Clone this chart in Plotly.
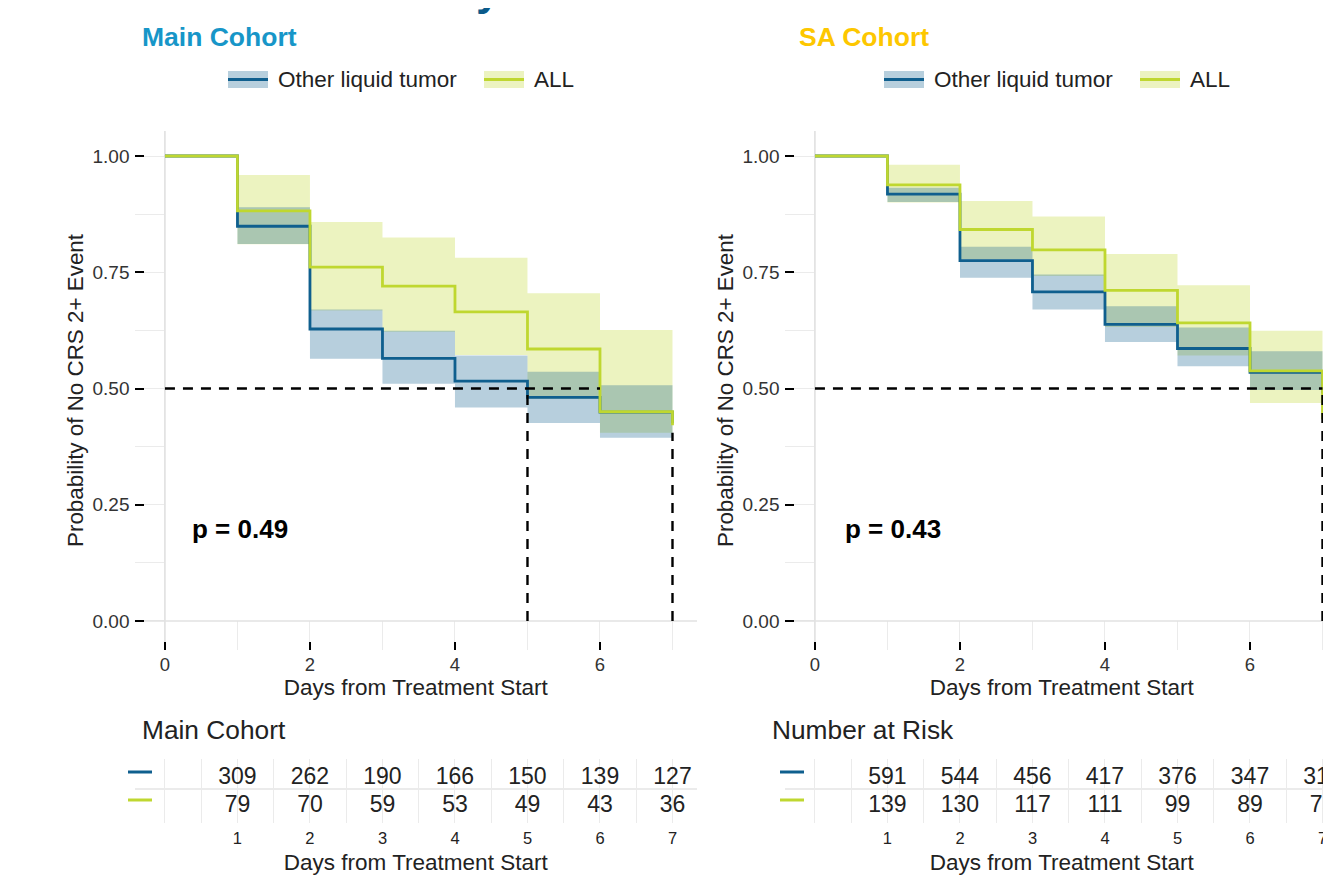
import plotly.graph_objects as go

W, H = 1331, 880
OFF = 8  # page body margin offset (screen px)
FONT = "Liberation Sans, Arial, Helvetica, sans-serif"

# ---------------- data ----------------
days = [0, 1, 2, 3, 4, 5, 6, 7]
ci_starts = [1, 2, 3, 4, 5, 6]
risk_days = [1, 2, 3, 4, 5, 6, 7]
group_names = ["Other liquid tumor", "ALL"]

# Main cohort
main_other_surv = [1.0, 0.849, 0.628, 0.565, 0.516, 0.481, 0.449, 0.425]
main_all_surv = [1.0, 0.882, 0.761, 0.720, 0.665, 0.585, 0.450, 0.421]
main_other_upper = [0.890, 0.670, 0.624, 0.571, 0.536, 0.507]
main_other_lower = [0.811, 0.564, 0.510, 0.459, 0.426, 0.394]
main_all_upper = [0.959, 0.858, 0.825, 0.781, 0.705, 0.626]
main_all_lower = [0.810, 0.668, 0.622, 0.572, 0.478, 0.405]
main_risk_other = [309, 262, 190, 166, 150, 139, 127]
main_risk_all = [79, 70, 59, 53, 49, 43, 36]
main_pvalue = "p = 0.49"
main_median_h_end = 6
main_median_x = [5, 7]
main_median_top = [0.5, 0.405]

# SA cohort
sa_other_surv = [1.0, 0.918, 0.775, 0.708, 0.638, 0.586, 0.535, 0.490]
sa_all_surv = [1.0, 0.938, 0.842, 0.798, 0.711, 0.641, 0.538, 0.434]
sa_other_upper = [0.932, 0.805, 0.745, 0.677, 0.631, 0.580]
sa_other_lower = [0.901, 0.738, 0.670, 0.600, 0.548, 0.497]
sa_all_upper = [0.981, 0.903, 0.870, 0.789, 0.722, 0.624]
sa_all_lower = [0.900, 0.778, 0.742, 0.632, 0.571, 0.469]
sa_risk_other = [591, 544, 456, 417, 376, 347, 318]
sa_risk_all = [139, 130, 117, 111, 99, 89, 75]
sa_pvalue = "p = 0.43"
sa_median_h_end = 7
sa_median_x = [7]
sa_median_top = [0.5]

# ---------------- styles ----------------
BLUE = "#0f5f8e"
GREEN = "#bfd730"
BLUE_FILL = "rgba(15,95,142,0.30)"
GREEN_FILL = "rgba(191,215,48,0.30)"
GRID = "#ebebeb"
AXLINE = "#e2e2e2"
TXT = "#222222"


def px(x):
    return (x - OFF) / W


def py(y):
    return 1 - (y - OFF) / H


# panel geometry in screen pixels
LEFT_X0, LEFT_X1 = 134.5, 697
RIGHT_X0, RIGHT_X1 = 784.5, W + OFF
KM_Y0, KM_Y1 = 131, 650
TAB_Y0, TAB_Y1 = 759, 823
XR_LEFT = [-0.42, 7.338]
XR_RIGHT = [-0.42, (RIGHT_X1 - 815) / 72.5]
YR_KM = [-0.0624, 1.0538]
ROW_SHIFT = 3 / 28.0
YR_TAB = [-0.714 + ROW_SHIFT, 1.571 + ROW_SHIFT]


def band(starts, upper, lower):
    xs, ys = [], []
    for s, u in zip(starts, upper):
        xs += [s, s + 1]
        ys += [u, u]
    for s, l in reversed(list(zip(starts, lower))):
        xs += [s + 1, s]
        ys += [l, l]
    xs.append(xs[0])
    ys.append(ys[0])
    return xs, ys


fig = go.Figure()

panels = [
    dict(xa="x", ya="y", xt="x3", yt="y3",
         other=main_other_surv, all=main_all_surv,
         ou=main_other_upper, ol=main_other_lower,
         au=main_all_upper, al=main_all_lower,
         ro=main_risk_other, ra=main_risk_all,
         p=main_pvalue, px_=0.35, mh=main_median_h_end,
         mx=main_median_x, mt=main_median_top),
    dict(xa="x2", ya="y2", xt="x4", yt="y4",
         other=sa_other_surv, all=sa_all_surv,
         ou=sa_other_upper, ol=sa_other_lower,
         au=sa_all_upper, al=sa_all_lower,
         ro=sa_risk_other, ra=sa_risk_all,
         p=sa_pvalue, px_=0.39, mh=sa_median_h_end,
         mx=sa_median_x, mt=sa_median_top),
]

for pn in panels:
    bx, by = band(ci_starts, pn["au"], pn["al"])
    fig.add_trace(go.Scatter(x=bx, y=by, fill="toself", fillcolor=GREEN_FILL,
                             mode="lines", line=dict(width=0), hoverinfo="skip",
                             showlegend=False, xaxis=pn["xa"], yaxis=pn["ya"]))
    bx, by = band(ci_starts, pn["ou"], pn["ol"])
    fig.add_trace(go.Scatter(x=bx, y=by, fill="toself", fillcolor=BLUE_FILL,
                             mode="lines", line=dict(width=0), hoverinfo="skip",
                             showlegend=False, xaxis=pn["xa"], yaxis=pn["ya"]))
    fig.add_trace(go.Scatter(x=days, y=pn["other"], mode="lines", line_shape="hv",
                             line=dict(color=BLUE, width=2.8), name=group_names[0],
                             showlegend=False, xaxis=pn["xa"], yaxis=pn["ya"]))
    fig.add_trace(go.Scatter(x=days, y=pn["all"], mode="lines", line_shape="hv",
                             line=dict(color=GREEN, width=2.8), name=group_names[1],
                             showlegend=False, xaxis=pn["xa"], yaxis=pn["ya"]))
    fig.add_trace(go.Scatter(x=[0, pn["mh"]], y=[0.5, 0.5], mode="lines",
                             line=dict(color="black", width=2.4, dash="10px,8px"),
                             hoverinfo="skip", showlegend=False,
                             xaxis=pn["xa"], yaxis=pn["ya"]))
    for mx, mt in zip(pn["mx"], pn["mt"]):
        fig.add_trace(go.Scatter(x=[mx, mx], y=[0, mt], mode="lines",
                                 line=dict(color="black", width=2.4, dash="10px,8px"),
                                 hoverinfo="skip", showlegend=False,
                                 xaxis=pn["xa"], yaxis=pn["ya"]))
    fig.add_trace(go.Scatter(x=risk_days, y=[1] * len(risk_days), mode="text",
                             text=[str(v) for v in pn["ro"]],
                             textfont=dict(size=23, color=TXT, family=FONT),
                             cliponaxis=False, hoverinfo="skip", showlegend=False,
                             xaxis=pn["xt"], yaxis=pn["yt"]))
    fig.add_trace(go.Scatter(x=risk_days, y=[0] * len(risk_days), mode="text",
                             text=[str(v) for v in pn["ra"]],
                             textfont=dict(size=23, color=TXT, family=FONT),
                             cliponaxis=False, hoverinfo="skip", showlegend=False,
                             xaxis=pn["xt"], yaxis=pn["yt"]))


def km_xaxis(domain, rng, anchor):
    return dict(domain=domain, range=rng, anchor=anchor,
                tickmode="linear", tick0=0, dtick=2,
                ticks="inside", ticklen=8, tickwidth=2, tickcolor="black",
                showgrid=True, gridcolor=GRID, gridwidth=1.3,
                minor=dict(tick0=0, dtick=1, showgrid=True, gridcolor=GRID,
                           gridwidth=1.3, ticks=""),
                zeroline=False, showline=False, ticklabelstandoff=1,
                tickfont=dict(size=18.5, color="#333", family=FONT),
                title=dict(text="Days from Treatment Start", standoff=5,
                           font=dict(size=22.5, color=TXT, family=FONT)))


def km_yaxis(domain, anchor):
    return dict(domain=domain, range=YR_KM, anchor=anchor,
                tickmode="linear", tick0=0, dtick=0.25, tickformat=".2f",
                ticks="inside", ticklen=9, tickwidth=2, tickcolor="black",
                showgrid=True, gridcolor=GRID, gridwidth=1.3,
                minor=dict(tick0=0, dtick=0.125, showgrid=True, gridcolor=GRID,
                           gridwidth=1.3, ticks=""),
                zeroline=False, showline=False, ticklabelstandoff=4,
                tickfont=dict(size=19, color="#333", family=FONT),
                title=dict(text="Probability of No CRS 2+ Event", standoff=2,
                           font=dict(size=22.4, color=TXT, family=FONT)))


def tab_xaxis(domain, rng, anchor):
    return dict(domain=domain, range=rng, anchor=anchor,
                tickmode="array", tickvals=risk_days, ticks="",
                showgrid=True, gridcolor=GRID, gridwidth=1.3,
                minor=dict(tickmode="linear", tick0=0, dtick=0.5, showgrid=True,
                           gridcolor=GRID, gridwidth=1.3, ticks=""),
                zeroline=False, showline=False, ticklabelstandoff=3,
                tickfont=dict(size=16.5, color=TXT, family=FONT),
                title=dict(text="Days from Treatment Start", standoff=8,
                           font=dict(size=22.5, color=TXT, family=FONT)))


def tab_yaxis(domain, anchor):
    return dict(domain=domain, range=YR_TAB, anchor=anchor,
                tickmode="array", tickvals=[0.5 + ROW_SHIFT], showticklabels=False,
                ticks="", showgrid=True, gridcolor=GRID, gridwidth=1.5,
                zeroline=False, showline=False)


km_ydom = [py(KM_Y1), py(KM_Y0)]
tab_ydom = [py(TAB_Y1), py(TAB_Y0)]
left_dom = [px(LEFT_X0), px(LEFT_X1)]
right_dom = [px(RIGHT_X0), min(1.0, px(RIGHT_X1))]

fig.update_layout(
    width=W, height=H, autosize=False,
    margin=dict(l=0, r=0, t=0, b=0),
    paper_bgcolor="white", plot_bgcolor="white",
    font=dict(family=FONT, color=TXT),
    showlegend=False,
    xaxis=km_xaxis(left_dom, XR_LEFT, "y"),
    yaxis=km_yaxis(km_ydom, "x"),
    xaxis2=km_xaxis(right_dom, XR_RIGHT, "y2"),
    yaxis2=km_yaxis(km_ydom, "x2"),
    xaxis3=tab_xaxis(left_dom, XR_LEFT, "y3"),
    yaxis3=tab_yaxis(tab_ydom, "x3"),
    xaxis4=tab_xaxis(right_dom, XR_RIGHT, "y4"),
    yaxis4=tab_yaxis(tab_ydom, "x4"),
)

shapes = []
annotations = []
for xa, ya, rng in [("x", "y", XR_LEFT), ("x2", "y2", XR_RIGHT)]:
    shapes.append(dict(type="rect", xref=xa, yref=ya, x0=0, x1=rng[1] + 1,
                       y0=0, y1=YR_KM[1] + 1, fillcolor="white",
                       line=dict(width=0), layer="between"))
    shapes.append(dict(type="line", xref=xa, yref=ya, x0=0, x1=0,
                       y0=YR_KM[0], y1=YR_KM[1], line=dict(color=AXLINE, width=1.6),
                       layer="between"))
    shapes.append(dict(type="line", xref=xa, yref=ya, x0=rng[0], x1=rng[1],
                       y0=0, y1=0, line=dict(color=AXLINE, width=1.6),
                       layer="between"))

legend_layout = [
    dict(title="Main Cohort", tcolor="#1796c8", tx=140, sw=[228, 484], txt=[276, 532],
         tab_title="Main Cohort", tab_x=140, dash_x=128),
    dict(title="SA Cohort", tcolor="#fdc700", tx=797, sw=[884, 1140], txt=[932, 1188],
         tab_title="Number at Risk", tab_x=770, dash_x=780),
]
for lg in legend_layout:
    annotations.append(dict(text="<b>%s</b>" % lg["title"], xref="paper", yref="paper",
                            x=px(lg["tx"]), y=py(37), xanchor="left", yanchor="middle",
                            showarrow=False,
                            font=dict(size=26.5, color=lg["tcolor"], family=FONT)))
    for i, (sx, tx) in enumerate(zip(lg["sw"], lg["txt"])):
        fill = BLUE_FILL if i == 0 else GREEN_FILL
        col = BLUE if i == 0 else GREEN
        shapes.append(dict(type="rect", xref="paper", yref="paper",
                           x0=px(sx), x1=px(sx + 40), y0=py(88), y1=py(71),
                           fillcolor=fill, line=dict(width=0)))
        shapes.append(dict(type="line", xref="paper", yref="paper",
                           x0=px(sx), x1=px(sx + 40), y0=py(79.5), y1=py(79.5),
                           line=dict(color=col, width=3)))
        annotations.append(dict(text=group_names[i], xref="paper", yref="paper",
                                x=px(tx), y=py(79), xanchor="left", yanchor="middle",
                                showarrow=False,
                                font=dict(size=22.5, color=TXT, family=FONT)))
    annotations.append(dict(text=lg["tab_title"], xref="paper", yref="paper",
                            x=px(lg["tab_x"]), y=py(730), xanchor="left",
                            yanchor="middle", showarrow=False,
                            font=dict(size=26.3, color=TXT, family=FONT)))
    for i, yy in enumerate([772, 800]):
        shapes.append(dict(type="line", xref="paper", yref="paper",
                           x0=px(lg["dash_x"]), x1=px(lg["dash_x"] + 24),
                           y0=py(yy), y1=py(yy),
                           line=dict(color=BLUE if i == 0 else GREEN, width=3)))

for pn in panels:
    annotations.append(dict(text="<b>%s</b>" % pn["p"], xref=pn["xa"], yref=pn["ya"],
                            x=pn["px_"], y=0.197, xanchor="left", yanchor="middle",
                            showarrow=False,
                            font=dict(size=26, color="black", family=FONT)))

# main title, mostly above the visible page
annotations.append(dict(text="<b>CRS Onset Summary</b>", xref="paper", yref="paper",
                        x=px(503), y=1, xanchor="right", yanchor="bottom", yshift=-8,
                        showarrow=False,
                        font=dict(size=44, color="#0b5a8a", family=FONT)))

fig.update_layout(shapes=shapes, annotations=annotations)
fig.write_html("out.html")
